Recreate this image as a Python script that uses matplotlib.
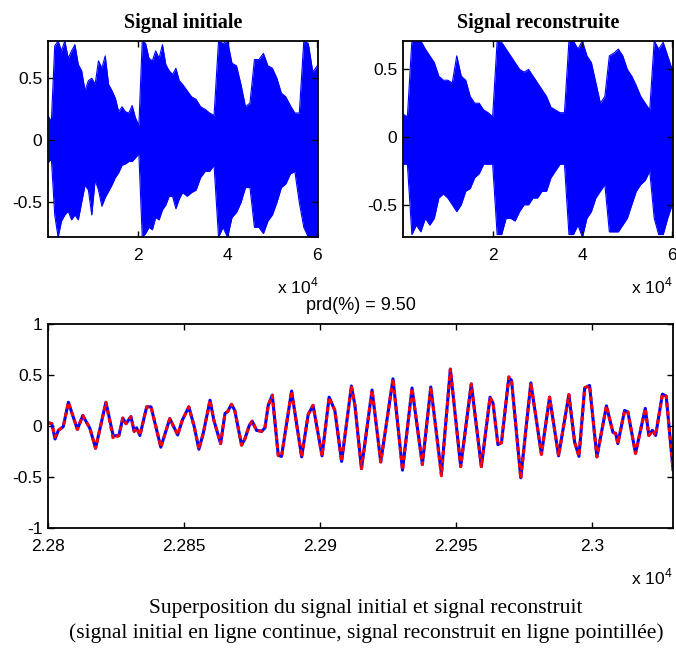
import matplotlib
matplotlib.use('Agg')
import matplotlib.pyplot as plt

plt.rcParams['font.family'] = ['Liberation Sans', 'DejaVu Sans']
plt.rcParams['mathtext.fontset'] = 'custom'
plt.rcParams['mathtext.rm'] = 'Liberation Sans'

# envelope of the full initial signal (upper / lower edge of the blue band)
init_t = list(range(0, 30001, 750)) + list(range(31000, 60001, 1000))
init_hi = [0.2, 0.15, 0.76, 0.8, 0.72, 0.8, 0.66, 0.72, 0.77, 0.61,
           0.56, 0.4, 0.48, 0.5, 0.45, 0.64, 0.58, 0.68, 0.45, 0.4,
           0.34, 0.23, 0.27, 0.23, 0.22, 0.28, 0.18, 0.12, 0.8, 0.78,
           0.66, 0.64, 0.72, 0.66, 0.77, 0.61, 0.56, 0.53, 0.58, 0.48,
           0.45,
           0.4, 0.35, 0.33, 0.27, 0.25, 0.22, 0.2, 0.8, 0.78, 0.8,
           0.62, 0.6, 0.45, 0.27, 0.3, 0.65, 0.65, 0.7, 0.6, 0.58,
           0.5, 0.38, 0.35, 0.28, 0.22, 0.22, 0.8, 0.78, 0.55, 0.6]
init_lo = [-0.18, -0.15, -0.6, -0.78, -0.65, -0.6, -0.57, -0.64, -0.6, -0.64,
           -0.5, -0.36, -0.4, -0.6, -0.32, -0.4, -0.53, -0.46, -0.41, -0.36,
           -0.3, -0.26, -0.2, -0.19, -0.17, -0.17, -0.14, -0.11, -0.78, -0.75,
           -0.7, -0.72, -0.62, -0.64, -0.56, -0.52, -0.45, -0.45, -0.55, -0.47,
           -0.42,
           -0.45, -0.42, -0.4, -0.3, -0.25, -0.25, -0.2, -0.78, -0.7, -0.78,
           -0.62, -0.58, -0.5, -0.38, -0.38, -0.7, -0.7, -0.75, -0.65, -0.6,
           -0.5, -0.38, -0.35, -0.27, -0.25, -0.5, -0.7, -0.78, -0.78, -0.78]

# envelope of the full reconstructed signal
rec_t = list(range(0, 60001, 1000))
rec_hi = [0.17, 0.15, 0.71, 0.71, 0.71, 0.65, 0.6, 0.55, 0.45, 0.42,
          0.42, 0.4, 0.6, 0.45, 0.42, 0.3, 0.25, 0.25, 0.2, 0.18,
          0.15, 0.71, 0.7, 0.65, 0.6, 0.55, 0.5, 0.48, 0.5, 0.45,
          0.4, 0.35, 0.3, 0.22, 0.2, 0.18, 0.18, 0.71, 0.71, 0.65,
          0.71, 0.6, 0.55, 0.4, 0.25, 0.3, 0.6, 0.62, 0.65, 0.6,
          0.5, 0.45, 0.38, 0.3, 0.25, 0.2, 0.71, 0.65, 0.7, 0.6,
          0.5]
rec_lo = [-0.2, -0.2, -0.72, -0.65, -0.7, -0.6, -0.65, -0.6, -0.45, -0.42,
          -0.45, -0.5, -0.55, -0.5, -0.4, -0.38, -0.3, -0.27, -0.2, -0.2,
          -0.2, -0.72, -0.72, -0.6, -0.6, -0.62, -0.55, -0.5, -0.5, -0.45,
          -0.45, -0.4, -0.4, -0.3, -0.25, -0.2, -0.2, -0.72, -0.72, -0.65,
          -0.74, -0.6, -0.55, -0.45, -0.4, -0.35, -0.7, -0.7, -0.7, -0.65,
          -0.6, -0.5, -0.4, -0.35, -0.32, -0.25, -0.6, -0.72, -0.72, -0.6,
          -0.5]

# zoomed part, samples 22800..23030 (turning points)
zoom_n = [0, 1.4, 2.6, 3.8, 5.6, 7.5, 10.8, 12.8, 15.4, 17.5,
          21.3, 24.0, 26.1, 27.5, 28.7, 30.5, 31.7, 32.6, 33.8, 36.3,
          37.9, 41.5, 44.8, 47.7, 49.4, 51.8, 53.8, 55.5, 57.1, 59.6,
          61.0, 63.5, 65.1, 66.1, 67.5, 68.7, 71.2, 72.4, 74.0, 75.1,
          76.7, 78.6, 79.8, 81.0, 82.5, 84.7, 85.9, 89.6, 93.3, 95.7,
          97.5, 100.8, 103.4, 105.5, 108.0, 111.6, 112.9, 115.3, 119.2, 122.4,
          126.9, 130.4, 133.9, 137.7, 140.8, 144.7, 148.0, 151.8, 155.7, 159.4,
          162.6, 163.7, 165.5, 166.8, 169.5, 170.5, 173.9, 177.6, 181.5, 184.5,
          187.8, 191.6, 193.7, 195.3, 197.4, 199.2, 201.9, 205.4, 207.8, 208.8,
          209.6, 212.1, 213.3, 216.1, 219.7, 221.0, 222.3, 223.5, 226.0, 227.4,
          229.9]
zoom_init = [0.03, 0.02, -0.13, -0.045, -0.01, 0.23, -0.035, 0.10, -0.025, -0.22,
             0.23, -0.10, -0.095, 0.075, 0.02, 0.09, -0.055, -0.02, -0.095, 0.185,
             0.185, -0.21, 0.07, -0.09, 0.055, 0.185, -0.01, -0.23, -0.075, 0.25,
             0.055, -0.175, 0.12, 0.14, 0.21, 0.15, -0.19, -0.13, 0.0, 0.045,
             -0.045, -0.055, -0.02, 0.2, 0.30, -0.29, -0.30, 0.34, -0.305, 0.11,
             0.20, -0.295, 0.28, 0.15, -0.35, 0.39, 0.2, -0.42, 0.35, -0.355,
             0.46, -0.435, 0.37, -0.38, 0.38, -0.47, 0.555, -0.40, 0.41, -0.40,
             0.28, 0.22, -0.185, -0.165, 0.47, 0.445, -0.51, 0.42, -0.28, 0.28,
             -0.295, 0.305, -0.16, -0.30, 0.37, 0.395, -0.305, 0.195, -0.065, -0.075,
             -0.175, 0.15, 0.135, -0.27, 0.17, -0.095, -0.045, -0.095, 0.31, 0.29,
             -0.43]
zoom_rec = [0.03, 0.02, -0.11, -0.045, -0.01, 0.23, -0.035, 0.10, -0.025, -0.22,
            0.23, -0.13, -0.095, 0.075, 0.02, 0.09, -0.055, -0.02, -0.095, 0.185,
            0.185, -0.21, 0.07, -0.09, 0.055, 0.185, -0.01, -0.23, -0.075, 0.25,
            0.055, -0.175, 0.12, 0.14, 0.21, 0.15, -0.19, -0.13, 0.0, 0.045,
            -0.045, -0.055, -0.02, 0.2, 0.30, -0.29, -0.30, 0.34, -0.305, 0.11,
            0.20, -0.295, 0.28, 0.15, -0.35, 0.39, 0.2, -0.42, 0.35, -0.355,
            0.46, -0.435, 0.37, -0.38, 0.38, -0.49, 0.555, -0.40, 0.41, -0.40,
            0.28, 0.22, -0.185, -0.165, 0.48, 0.445, -0.52, 0.42, -0.28, 0.28,
            -0.295, 0.305, -0.16, -0.30, 0.37, 0.395, -0.305, 0.195, -0.065, -0.075,
            -0.175, 0.15, 0.135, -0.27, 0.17, -0.095, -0.045, -0.095, 0.31, 0.29,
            -0.43]

top_ticks = [20000, 40000, 60000]
top_ticklabels = ['2', '4', '6']
zoom_ticks = [22800, 22850, 22900, 22950, 23000]
zoom_ticklabels = ['2.28', '2.285', '2.29', '2.295', '2.3']

serif = ['Liberation Serif', 'DejaVu Serif']
fs = 12.5

fig = plt.figure(figsize=(6.76, 6.5), dpi=100)
ax1 = fig.add_axes([0.071, 0.635, 0.399, 0.302])
ax2 = fig.add_axes([0.596, 0.635, 0.399, 0.302])
ax3 = fig.add_axes([0.071, 0.188, 0.925, 0.314])


def style(ax):
    ax.tick_params(direction='in', top=True, right=True, labelsize=fs,
                   length=4, width=1, pad=4)
    ax.tick_params(axis='x', pad=8)
    for s in ax.spines.values():
        s.set_linewidth(1.3)


def top_panel(ax, t, hi, lo, title, ylo, yhi):
    ax.fill_between(t, lo, hi, color='blue', lw=0)
    ax.plot(t, hi, color='blue', lw=0.8)
    ax.plot(t, lo, color='blue', lw=0.8)
    ax.set_xlim(0, 60100)
    ax.set_ylim(ylo, yhi)
    ax.set_xticks(top_ticks)
    ax.set_xticklabels(top_ticklabels)
    ax.set_yticks([-0.5, 0, 0.5])
    ax.set_yticklabels(['-0.5', '0', '0.5'])
    ax.set_title(title, family=serif, fontweight='bold', fontsize=14.5, pad=9)
    style(ax)


top_panel(ax1, init_t, init_hi, init_lo, 'Signal initiale', -0.78, 0.8)
top_panel(ax2, rec_t, rec_hi, rec_lo, 'Signal reconstruite', -0.74, 0.71)

zn = [22800 + v for v in zoom_n]
ax3.plot(zn, zoom_init, color='blue', lw=2.2, solid_joinstyle='round')
ax3.plot(zn, zoom_rec, color='red', lw=2.2, dashes=(1.5, 1.2))
ax3.set_xlim(22800, 23030)
ax3.set_ylim(-1, 1)
ax3.set_xticks(zoom_ticks)
ax3.set_xticklabels(zoom_ticklabels)
ax3.set_yticks([-1, -0.5, 0, 0.5, 1])
ax3.set_yticklabels(['-1', '-0.5', '0', '0.5', '1'])
ax3.set_title('prd(%) = 9.50', fontsize=13, pad=10)
style(ax3)

for xr, yb in [(318 / 676, 1 - 293 / 650), (672 / 676, 1 - 293 / 650),
               (672 / 676, 1 - 584 / 650)]:
    fig.text(xr, yb, r'x 10$^{4}$', ha='right', va='baseline', fontsize=fs)

fig.text(366 / 676, 1 - 608 / 650,
         'Superposition du signal initial et signal reconstruit',
         ha='center', va='center', family=serif, fontsize=15.5)
fig.text(366 / 676, 1 - 633 / 650,
         '(signal initial en ligne continue, signal reconstruit en ligne pointillée)',
         ha='center', va='center', family=serif, fontsize=15.5)

fig.savefig('out.png', dpi=100)
